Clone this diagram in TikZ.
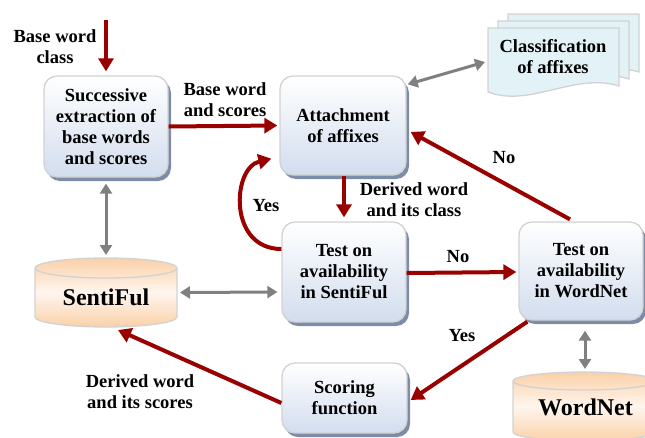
\documentclass[tikz,border=0pt]{standalone}
\usepackage{fontspec}
\setmainfont{Liberation Serif}
\usetikzlibrary{arrows.meta,shadows}
\definecolor{darkred}{HTML}{990000}
\definecolor{arrgray}{HTML}{808080}
\definecolor{boxblue}{HTML}{D2DDEE}
\definecolor{boxline}{HTML}{D2D2D2}
\definecolor{shadowc}{HTML}{7D8DA8}
\definecolor{peach}{HTML}{FAD0A8}
\definecolor{peachlight}{HTML}{FFF6EE}
\definecolor{docfill}{HTML}{E2F2F7}
\begin{document}
\begin{tikzpicture}[x=1pt,y=-1pt,
  lbl/.style={font=\fontsize{18.5}{21}\selectfont\bfseries, align=center, inner sep=0pt},
  biglbl/.style={font=\fontsize{24}{28}\selectfont\bfseries, inner sep=0pt},
  procbox/.style={lbl, rounded corners=13pt, draw=boxline, line width=1.3pt,
    top color=white, bottom color=boxblue,
    general shadow={fill=shadowc, shadow xshift=3pt, shadow yshift=-4pt}},
  cylbody/.style={draw=boxline, line width=1.3pt, top color=peach, bottom color=peach, middle color=peachlight},
  cylline/.style={draw=boxline, line width=1.3pt},
  docshape/.style={draw=boxline, line width=1.3pt, fill=docfill},
  ghost/.style={inner sep=0pt, outer sep=0pt},
  redarrow/.style={draw=darkred, line width=4pt, -{Triangle[length=13pt,width=15pt]}},
  grayarrow/.style={draw=arrgray, line width=3pt, {Triangle[length=10pt,width=12pt]}-{Triangle[length=10pt,width=12pt]}}
]
\useasboundingbox (0,0) rectangle (645,437);
\clip (0,0) rectangle (645,437);

% classification documents
\foreach \dx/\dy in {20/-14, 10/-7, 0/0}{
  \begin{scope}[shift={(\dx,\dy)}]
    \draw[docshape] (488,28) -- (619,28) -- (619,86) .. controls (575,72) and (530,108) .. (488,92) -- cycle;
  \end{scope}
}
\node[ghost, minimum width=131pt, minimum height=70pt] (docfront) at (553.5,62) {};
\node[lbl] (classif) at (553,57) {Classification\\of affixes};

% cylinders
\draw[cylbody] (35,268) -- (35,317) arc[start angle=180,end angle=360,x radius=71pt,y radius=10pt]
  -- (177,268) arc[start angle=0,end angle=180,x radius=71pt,y radius=10pt] -- cycle;
\draw[cylline] (35,268) arc[start angle=180,end angle=360,x radius=71pt,y radius=10pt];
\node[ghost, minimum width=142pt, minimum height=69pt] (sentiful) at (106,292.5) {};
\node[biglbl] (sentifultext) at (106,297) {SentiFul};

\draw[cylbody] (513,381) -- (513,432) arc[start angle=180,end angle=360,x radius=71pt,y radius=9pt]
  -- (655,381) arc[start angle=0,end angle=180,x radius=71pt,y radius=9pt] -- cycle;
\draw[cylline] (513,381) arc[start angle=180,end angle=360,x radius=71pt,y radius=9pt];
\node[ghost, minimum width=142pt, minimum height=69pt] (wordnet) at (584,406.5) {};
\node[biglbl] (wordnettext) at (585.5,407) {WordNet};

% process boxes
\node[procbox, minimum width=124pt, minimum height=101pt] (succ) at (106,126.5) {Successive\\extraction of\\base words\\and scores};
\node[procbox, minimum width=126pt, minimum height=99pt] (attach) at (343,125.5) {Attachment\\of affixes};
\node[procbox, minimum width=124pt, minimum height=100pt] (testsf) at (344,272) {Test on\\availability\\in SentiFul};
\node[procbox, minimum width=124pt, minimum height=98pt] (testwn) at (581,271) {Test on\\availability\\in WordNet};
\node[procbox, minimum width=125pt, minimum height=70pt] (scoring) at (344.5,398) {Scoring\\function};

% connectors
\coordinate (bwcstart) at (106,20);
\draw[redarrow] (bwcstart) -- ([yshift=4pt]succ.north);
\draw[redarrow] (succ.east) -- ([xshift=-2pt]attach.west);
\draw[grayarrow] ([yshift=-6pt]succ.south) -- ([yshift=3pt]sentiful.north);
\draw[grayarrow] ([shift={(1pt,-9pt)}]attach.north east) -- ([xshift=-3pt]docfront.west);
\draw[redarrow] ([xshift=1pt]attach.south) -- ([yshift=4pt]testsf.north);
\draw[redarrow] ([yshift=23pt]testsf.west) .. controls (228,249) and (232,168) .. ([shift={(-8pt,17pt)}]attach.south west);
\draw[redarrow] ([yshift=-1pt]testsf.east) -- ([shift={(-2pt,-1pt)}]testwn.west);
\draw[redarrow] ([shift={(-11pt,2pt)}]testwn.north) -- ([shift={(4pt,-6.5pt)}]attach.east);
\draw[redarrow] ([shift={(9pt,-1pt)}]testwn.south west) -- ([shift={(3pt,-2pt)}]scoring.east);
\draw[redarrow] ([yshift=-5pt]scoring.west) -- ([shift={(12pt,-3pt)}]sentiful.south);
\draw[grayarrow] ([xshift=3pt]sentiful.east) -- ([shift={(-4pt,-20pt)}]testsf.west);
\draw[grayarrow] ([shift={(4pt,-10pt)}]testwn.south) -- ([shift={(1pt,3pt)}]wordnet.north);

% labels
\node[lbl] (lblbwc) at (55,47) {Base word\\class};
\node[lbl] (lblbws) at (225,100) {Base word\\and scores};
\node[lbl] (lbldwc) at (414,200) {Derived word\\and its class};
\node[lbl] (lblyes1) at (266,206) {Yes};
\node[lbl] (lblno1) at (458,257) {No};
\node[lbl] (lblno2) at (504,158) {No};
\node[lbl] (lblyes2) at (462,336) {Yes};
\node[lbl] (lbldws) at (140,392) {Derived word\\and its scores};
\end{tikzpicture}
\end{document}
